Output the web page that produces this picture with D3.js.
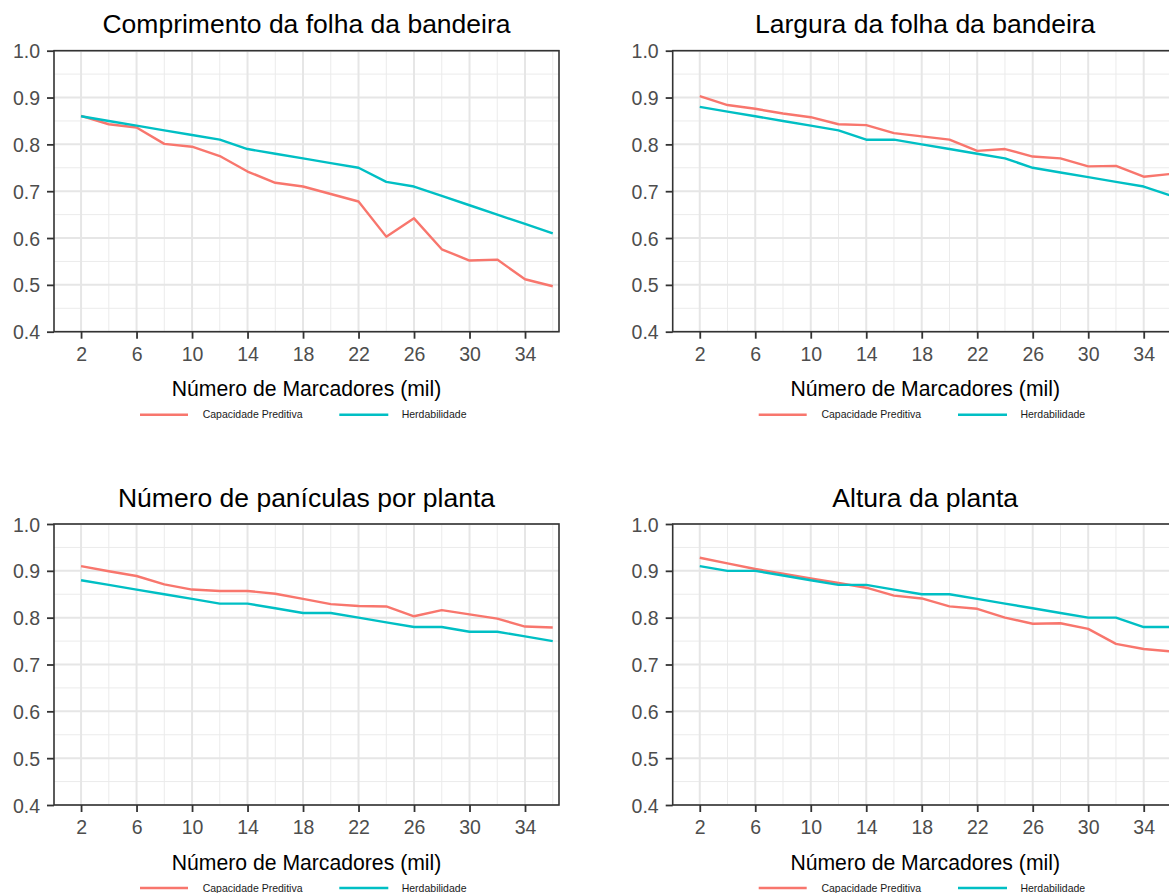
<!DOCTYPE html>
<html>
<head>
<meta charset="utf-8">
<script src="https://cdn.jsdelivr.net/npm/d3@7"></script>
<style>
  html, body { margin: 0; padding: 0; background: #fff; }
  svg { display: block; font-family: "Liberation Sans", Arial, sans-serif; }
</style>
</head>
<body>
<svg id="chart" width="1169" height="893"></svg>
<script>
// Número de marcadores (mil)
const marcadores = [2, 4, 6, 8, 10, 12, 14, 16, 18, 20, 22, 24, 26, 28, 30, 32, 34, 36];

// Comprimento da folha da bandeira
const compCapacidade = [0.861, 0.843, 0.836, 0.801, 0.795, 0.775, 0.742, 0.718, 0.710, 0.694, 0.678, 0.603, 0.642, 0.576, 0.552, 0.554, 0.512, 0.497];
const compHerdab     = [0.86, 0.85, 0.84, 0.83, 0.82, 0.81, 0.79, 0.78, 0.77, 0.76, 0.75, 0.72, 0.71, 0.69, 0.67, 0.65, 0.63, 0.61];

// Largura da folha da bandeira
const largCapacidade = [0.903, 0.884, 0.876, 0.866, 0.858, 0.843, 0.841, 0.824, 0.817, 0.810, 0.786, 0.790, 0.774, 0.770, 0.753, 0.754, 0.731, 0.737];
const largHerdab     = [0.88, 0.87, 0.86, 0.85, 0.84, 0.83, 0.81, 0.81, 0.80, 0.79, 0.78, 0.77, 0.75, 0.74, 0.73, 0.72, 0.71, 0.69];

// Número de panículas por planta
const panCapacidade = [0.910, 0.899, 0.889, 0.871, 0.860, 0.857, 0.857, 0.851, 0.840, 0.829, 0.825, 0.824, 0.803, 0.816, 0.807, 0.798, 0.781, 0.779];
const panHerdab     = [0.88, 0.87, 0.86, 0.85, 0.84, 0.83, 0.83, 0.82, 0.81, 0.81, 0.80, 0.79, 0.78, 0.78, 0.77, 0.77, 0.76, 0.75];

// Altura da planta
const altCapacidade = [0.928, 0.916, 0.904, 0.894, 0.884, 0.874, 0.864, 0.847, 0.841, 0.824, 0.819, 0.800, 0.787, 0.788, 0.776, 0.744, 0.733, 0.728];
const altHerdab     = [0.91, 0.90, 0.90, 0.89, 0.88, 0.87, 0.87, 0.86, 0.85, 0.85, 0.84, 0.83, 0.82, 0.81, 0.80, 0.80, 0.78, 0.78];

const titulos = [
  "Comprimento da folha da bandeira",
  "Largura da folha da bandeira",
  "Número de panículas por planta",
  "Altura da planta"
];
const seriesNomes = ["Capacidade Preditiva", "Herdabilidade"];
const xBreaks = [2, 6, 10, 14, 18, 22, 26, 30, 34];
const xMinor = [4, 8, 12, 16, 20, 24, 28, 32, 36];
const yBreaks = [0.4, 0.5, 0.6, 0.7, 0.8, 0.9, 1.0];
const yMinor = [0.45, 0.55, 0.65, 0.75, 0.85, 0.95];
const xTitulo = "Número de Marcadores (mil)";

const cores = ["#F8766D", "#00BFC4"];

const paineis = [
  { titulo: titulos[0], valores: [compCapacidade, compHerdab], left: 54,    top: 50.7 },
  { titulo: titulos[1], valores: [largCapacidade, largHerdab], left: 672.7, top: 50.7 },
  { titulo: titulos[2], valores: [panCapacidade, panHerdab],   left: 54,    top: 524 },
  { titulo: titulos[3], valores: [altCapacidade, altHerdab],   left: 672.7, top: 524 }
];

const W = 505, H = 281;
const svg = d3.select("#chart");

const x = d3.scaleLinear().domain([0.05, 36.45]).range([0, W]);
const y = d3.scaleLinear().domain([0.4, 1.0]).range([H, 0]);

paineis.forEach(p => {
  const g = svg.append("g").attr("transform", `translate(${p.left},${p.top})`);

  // background
  g.append("rect").attr("width", W).attr("height", H).attr("fill", "#fff");

  // minor grid
  g.selectAll(".vminor").data(xMinor).join("line")
    .attr("x1", d => x(d)).attr("x2", d => x(d)).attr("y1", 0).attr("y2", H)
    .attr("stroke", "#EBEBEB").attr("stroke-width", 1);
  g.selectAll(".hminor").data(yMinor).join("line")
    .attr("x1", 0).attr("x2", W).attr("y1", d => y(d)).attr("y2", d => y(d))
    .attr("stroke", "#EBEBEB").attr("stroke-width", 1);

  // major grid
  g.selectAll(".vmajor").data(xBreaks).join("line")
    .attr("x1", d => x(d)).attr("x2", d => x(d)).attr("y1", 0).attr("y2", H)
    .attr("stroke", "#E6E6E6").attr("stroke-width", 2);
  g.selectAll(".hmajor").data(yBreaks).join("line")
    .attr("x1", 0).attr("x2", W).attr("y1", d => y(d)).attr("y2", d => y(d))
    .attr("stroke", "#E6E6E6").attr("stroke-width", 2);

  // series
  const line = d3.line().x((d, i) => x(marcadores[i])).y(d => y(d));
  p.valores.forEach((vals, k) => {
    g.append("path").datum(vals)
      .attr("d", line)
      .attr("fill", "none")
      .attr("stroke", cores[k])
      .attr("stroke-width", 2.4)
      .attr("stroke-linejoin", "round");
  });

  // panel border
  g.append("rect").attr("width", W).attr("height", H)
    .attr("fill", "none").attr("stroke", "#333333").attr("stroke-width", 1.6);

  // axes
  const xAxis = d3.axisBottom(x).tickValues(xBreaks).tickSize(7).tickPadding(6)
    .tickFormat(d3.format("d"));
  const gx = g.append("g").attr("transform", `translate(0,${H})`).call(xAxis);
  const yAxis = d3.axisLeft(y).tickValues(yBreaks).tickSize(7).tickPadding(7)
    .tickFormat(d3.format(".1f"));
  const gy = g.append("g").call(yAxis);

  [gx, gy].forEach(a => {
    a.select(".domain").remove();
    a.selectAll(".tick line").attr("stroke", "#333333").attr("stroke-width", 1.8);
    a.selectAll(".tick text")
      .attr("fill", "#4D4D4D")
      .style("font-size", "19.5px")
      .style("font-family", "\"Liberation Sans\", Arial, sans-serif");
  });
  gx.selectAll(".tick text").attr("dy", null).attr("y", 29);
  gy.selectAll(".tick text").attr("dy", "0.36em");

  // title
  g.append("text")
    .attr("x", W / 2).attr("y", -17.4)
    .attr("text-anchor", "middle")
    .attr("fill", "#000")
    .style("font-size", "26.5px")
    .text(p.titulo);

  // x axis title
  g.append("text")
    .attr("x", W / 2).attr("y", H + 64.5)
    .attr("text-anchor", "middle")
    .attr("fill", "#000")
    .style("font-size", "21.2px")
    .text(xTitulo);

  // legend
  const legY = H + 83;
  const keys = [{ x1: 86, x2: 134, tx: 148.7 }, { x1: 285.3, x2: 334.3, tx: 347.7 }];
  keys.forEach((kk, k) => {
    g.append("line")
      .attr("x1", kk.x1).attr("x2", kk.x2).attr("y1", legY).attr("y2", legY)
      .attr("stroke", cores[k]).attr("stroke-width", 2.4);
    g.append("text")
      .attr("x", kk.tx).attr("y", legY).attr("dy", "0.35em")
      .attr("fill", "#1a1a1a")
      .style("font-size", "10.5px")
      .text(seriesNomes[k]);
  });
});
</script>
</body>
</html>
